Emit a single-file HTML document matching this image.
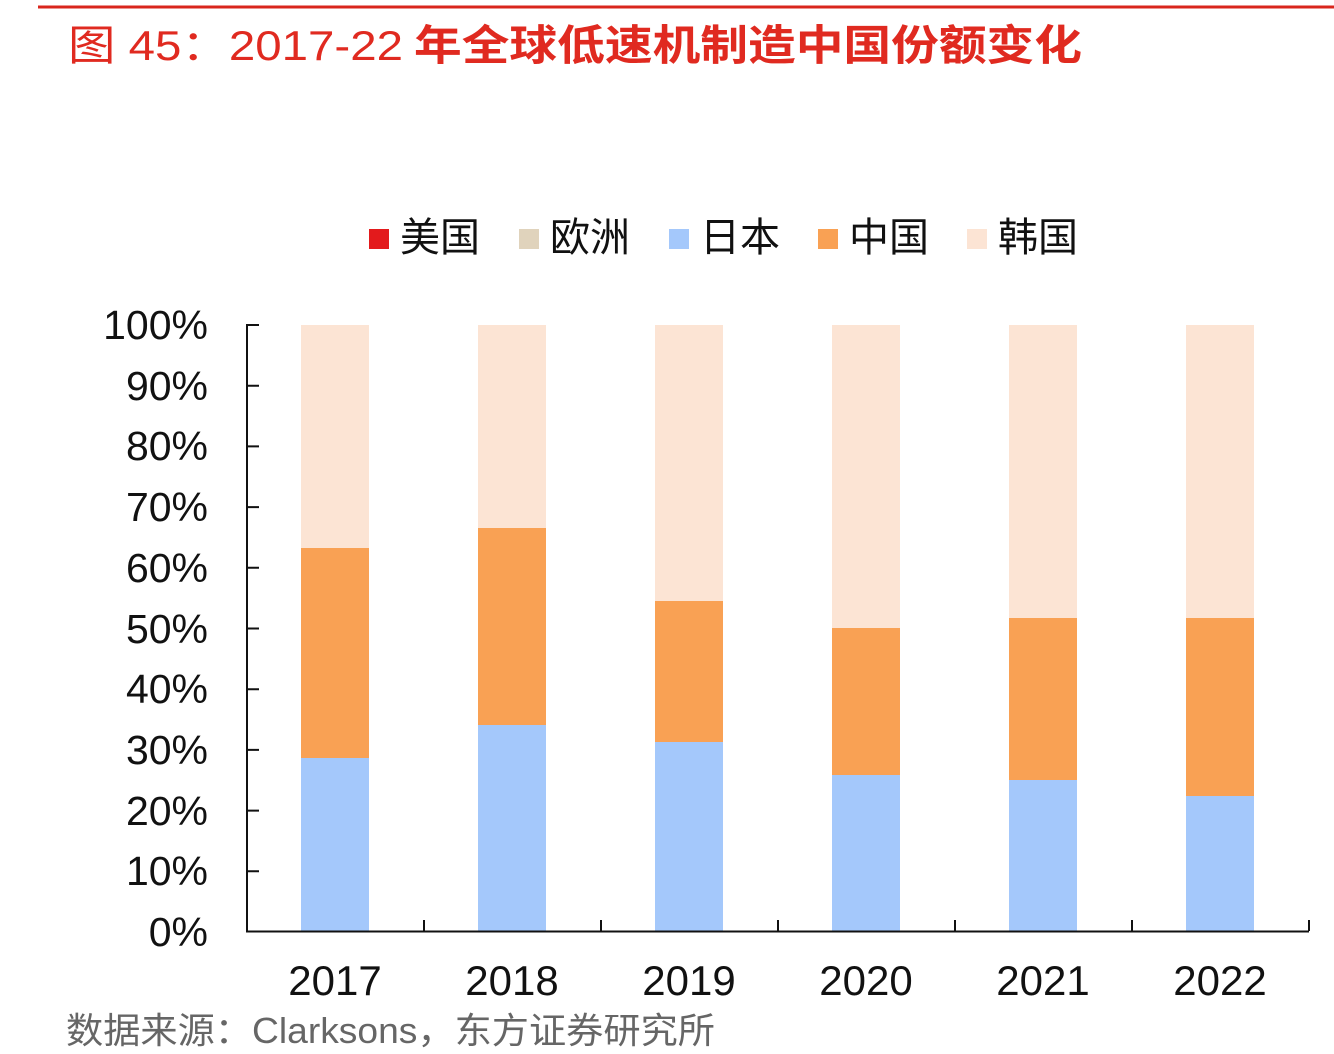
<!DOCTYPE html>
<html><head><meta charset="utf-8"><style>
html,body{margin:0;padding:0;background:#fff;}
svg{display:block;}
text{font-family:"Liberation Sans","Noto Sans CJK SC",sans-serif;}
</style></head><body>
<svg width="1334" height="1054" viewBox="0 0 1334 1054" xmlns="http://www.w3.org/2000/svg">
<rect width="1334" height="1054" fill="#fff"/>
<line x1="38" y1="7" x2="1334" y2="7" stroke="#d9261c" stroke-width="3"/>
<text x="68" y="60" font-size="42" fill="#e02a20" textLength="335" lengthAdjust="spacingAndGlyphs">图 45：2017-22</text>
<text x="414" y="60" font-size="42" font-weight="bold" fill="#e02a20" textLength="668" lengthAdjust="spacingAndGlyphs">年全球低速机制造中国份额变化</text>
<g font-size="40" fill="#111">
<rect x="369" y="229" width="20" height="20" fill="#e31a1c"/><text x="400" y="251">美国</text>
<rect x="519" y="229" width="20" height="20" fill="#e0d3bc"/><text x="550" y="251">欧洲</text>
<rect x="669" y="229" width="20" height="20" fill="#a4c8fb"/><text x="700" y="251">日本</text>
<rect x="818" y="229" width="20" height="20" fill="#f9a154"/><text x="849" y="251">中国</text>
<rect x="967" y="229" width="20" height="20" fill="#fce4d4"/><text x="998" y="251">韩国</text>
</g>
<g id="bars">
<rect x="301" y="325" width="68" height="606" fill="#fce4d4"/><rect x="301" y="548" width="68" height="210" fill="#f9a154"/><rect x="301" y="758" width="68" height="173" fill="#a4c8fb"/>
<rect x="478" y="325" width="68" height="606" fill="#fce4d4"/><rect x="478" y="528" width="68" height="197" fill="#f9a154"/><rect x="478" y="725" width="68" height="206" fill="#a4c8fb"/>
<rect x="655" y="325" width="68" height="606" fill="#fce4d4"/><rect x="655" y="601" width="68" height="141" fill="#f9a154"/><rect x="655" y="742" width="68" height="189" fill="#a4c8fb"/>
<rect x="832" y="325" width="68" height="606" fill="#fce4d4"/><rect x="832" y="628" width="68" height="147" fill="#f9a154"/><rect x="832" y="775" width="68" height="156" fill="#a4c8fb"/>
<rect x="1009" y="325" width="68" height="606" fill="#fce4d4"/><rect x="1009" y="618" width="68" height="162" fill="#f9a154"/><rect x="1009" y="780" width="68" height="151" fill="#a4c8fb"/>
<rect x="1186" y="325" width="68" height="606" fill="#fce4d4"/><rect x="1186" y="618" width="68" height="178" fill="#f9a154"/><rect x="1186" y="796" width="68" height="135" fill="#a4c8fb"/>
</g>
<g stroke="#111" stroke-width="2" fill="none">
<line x1="247" y1="324" x2="247" y2="932"/>
<line x1="246" y1="931.5" x2="1309" y2="931.5"/>
<path d="M247 325H259M247 385.7H259M247 446.4H259M247 507.1H259M247 567.8H259M247 628.5H259M247 689.2H259M247 749.9H259M247 810.6H259M247 871.3H259"/>
<path d="M424 931V920M601 931V920M778 931V920M955 931V920M1132 931V920M1309 931V920"/>
</g>
<g font-size="41" fill="#111" text-anchor="end">
<text x="208" y="339">100%</text><text x="208" y="400">90%</text><text x="208" y="460">80%</text><text x="208" y="521">70%</text><text x="208" y="582">60%</text><text x="208" y="643">50%</text><text x="208" y="703">40%</text><text x="208" y="764">30%</text><text x="208" y="825">20%</text><text x="208" y="885">10%</text><text x="208" y="946">0%</text>
</g>
<g font-size="42" fill="#111" text-anchor="middle">
<text x="335" y="995">2017</text><text x="512" y="995">2018</text><text x="689" y="995">2019</text><text x="866" y="995">2020</text><text x="1043" y="995">2021</text><text x="1220" y="995">2022</text>
</g>
<text x="66" y="1043" font-size="36" fill="#666" textLength="649" lengthAdjust="spacingAndGlyphs">数据来源：Clarksons，东方证券研究所</text>
</svg>
</body></html>
